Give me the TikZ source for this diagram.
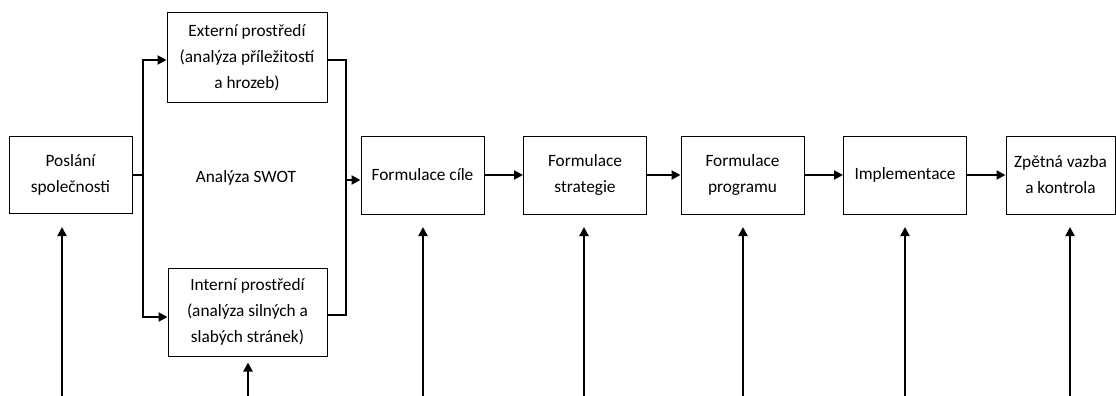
\documentclass[tikz,border=0pt]{standalone}
\usepackage{fontspec}
\setmainfont{Carlito}
\usetikzlibrary{arrows.meta}
\begin{document}
\begin{tikzpicture}[x=1pt,y=-1pt,
  every node/.style={draw, line width=1pt, align=center, inner sep=0pt, font=\fontsize{17.3}{26}\selectfont},
  box/.style={minimum width=123pt, minimum height=78pt},
  arr/.style={line width=2pt, -{Triangle[length=9pt,width=9pt]}}]
\useasboundingbox (0,0) rectangle (1116,396);
\node[box, minimum height=77pt] (p) at (70.5,174.5) {Poslání\\společnosti};
\node[minimum width=160pt, minimum height=89pt] (e) at (247,57.5) {Externí prostředí\\(analýza příležitostí\\a hrozeb)};
\node[minimum width=159pt, minimum height=88pt] (i) at (247.5,312) {Interní prostředí\\(analýza silných a\\slabých stránek)};
\node[draw=none] (swot) at (246,178) {Analýza SWOT};
\node[box] (c) at (422.5,175) {Formulace cíle};
\node[box] (s) at (585,175) {Formulace\\strategie};
\node[box] (g) at (742.5,175) {Formulace\\programu};
\node[box] (m) at (905,175) {Implementace};
\node[box, minimum width=109pt] (z) at (1060.5,175) {Zpětná vazba\\a kontrola};
\coordinate (j1) at (143,0);
\coordinate (j2) at (346,0);
% SWOT branch
\draw[line width=2pt] (p.east) -- (p.east -| j1);
\draw[arr] (p.east -| j1) |- ([yshift=-2.5pt]e.west);
\draw[arr] (p.east -| j1) |- ([yshift=-5pt]i.west);
\draw[line width=2pt] ([yshift=-2.5pt]e.east) -| ([yshift=-3pt]j2 |- i.east) -- ([yshift=-3pt]i.east);
\draw[arr] ([yshift=-5pt]j2 |- c.west) -- ([yshift=-5pt]c.west);
% main chain
\draw[arr] (c) -- (s);
\draw[arr] (s) -- (g);
\draw[arr] (g) -- (m);
\draw[arr] (m) -- (z);
% inputs from below
\foreach \n/\x in {1/62,2/423,3/584,4/743,5/905,6/1070} {
  \coordinate (u\n) at (\x,396);
  \coordinate (w\n) at (\x,227);
  \draw[arr] (u\n) -- (w\n);
}
\coordinate (u0) at (248,396);
\draw[arr] (u0) -- ([yshift=-6pt]i.south -| u0);
\end{tikzpicture}
\end{document}
